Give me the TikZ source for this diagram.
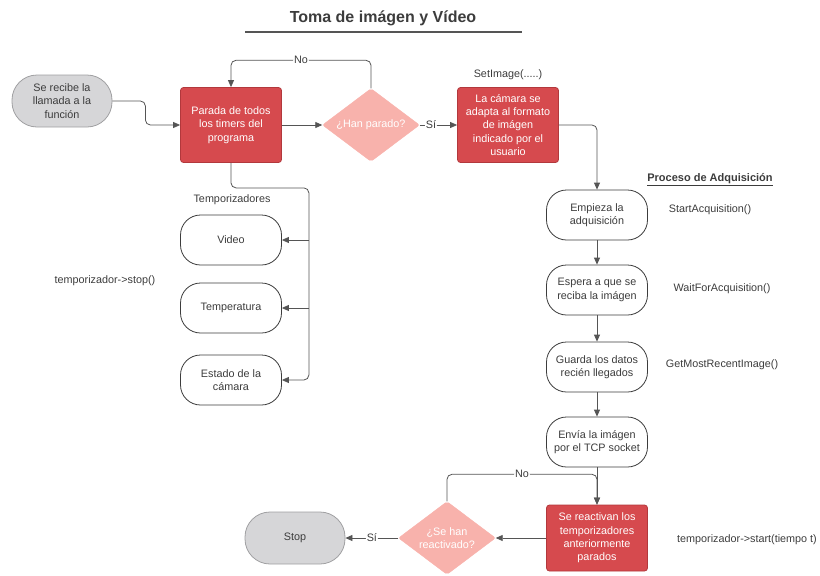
\documentclass[tikz,border=0pt]{standalone}
\usepackage{fontspec}
\setmainfont{Liberation Sans}
\usetikzlibrary{shapes.geometric,arrows.meta,calc}

\definecolor{redbox}{RGB}{214,74,78}
\definecolor{redline}{RGB}{178,56,60}
\definecolor{pinkdia}{RGB}{248,178,172}
\definecolor{graypill}{RGB}{214,214,216}
\definecolor{grayline}{RGB}{160,160,162}
\definecolor{ink}{RGB}{60,60,60}
\definecolor{wire}{RGB}{85,85,85}

\tikzset{
  txt/.style={font=\fontsize{10.8}{13.4}\selectfont, text=ink, align=center},
  pill/.style={txt, draw=grayline, fill=graypill, line width=0.8pt,
    minimum width=100pt, minimum height=52pt, rounded corners=25pt, inner sep=1pt},
  redstep/.style={txt, text=white, draw=redline, fill=redbox, line width=0.8pt,
    minimum width=101pt, minimum height=75pt, rounded corners=3pt, inner sep=1pt},
  whitestep/.style={txt, draw=ink, fill=white, line width=0.8pt,
    minimum width=101pt, minimum height=50pt, rounded corners=20pt, inner sep=1pt},
  decide/.style={txt, text=white, diamond, fill=pinkdia, draw=pinkdia, rounded corners=2pt,
    minimum width=97pt, minimum height=73pt, aspect=1.3, inner sep=0pt},
  conn/.style={draw=wire, line width=0.8pt, rounded corners=5pt,
    -{Triangle[length=7pt,width=6pt]}},
  lbl/.style={txt, fill=white, inner sep=1pt},
  note/.style={txt},
}

\begin{document}
\begin{tikzpicture}[x=1pt,y=-1pt]
\useasboundingbox (0,0) rectangle (820,576);

% title
\node[font=\fontsize{16}{19}\selectfont\bfseries, text=ink] (title) at (383,18) {Toma de imágen y Vídeo};
\draw[wire, line width=1.2pt] (245,32) -- (522,32);

% top row
\node[pill] (start) at (62,101) {Se recibe la\\llamada a la\\función};
\node[redstep] (parada) at (231,125) {Parada de todos\\los timers del\\programa};
\node[decide] (han) at (371,125) {¿Han parado?};
\node[redstep] (cam) at (508,125) {La cámara se\\adapta al formato\\de imágen\\indicado por el\\usuario};
\node[note] (setimg) at (508,75) {SetImage(.....)};

% timers column
\node[note] (temps) at (232,200) {Temporizadores};
\node[whitestep] (vid) at (231,240) {Video};
\node[whitestep] (temp) at (231,308) {Temperatura};
\node[whitestep] (est) at (231,380) {Estado de la\\cámara};
\node[note] (stopcall) at (105,281) {temporizador->stop()};

% acquisition column
\node[txt, font=\fontsize{11}{13.4}\selectfont\bfseries] (proc) at (710,180) {\underline{Proceso de Adquisición}};
\node[whitestep] (emp) at (597,215) {Empieza la\\adquisición};
\node[whitestep] (esp) at (597,290) {Espera a que se\\reciba la imágen};
\node[whitestep] (gua) at (597,367) {Guarda los datos\\recién llegados};
\node[whitestep] (env) at (597,442) {Envía la imágen\\por el TCP socket};
\node[redstep, minimum height=66pt] (react) at (597,538) {Se reactivan los\\temporizadores\\anteriormente\\parados};
\node[note] (sa) at (710,210) {StartAcquisition()};
\node[note] (wa) at (722,289) {WaitForAcquisition()};
\node[note] (gm) at (722,365) {GetMostRecentImage()};
\node[note] (st) at (747,540) {temporizador->start(tiempo t)};

% bottom row
\node[decide] (sehan) at (447,538) {¿Se han\\reactivado?};
\node[pill] (stop) at (295,538) {Stop};

% connectors, top row
\draw[conn] (start.east) -- ++(33,0) |- (parada.west);
\draw[conn] (parada.east) -- (han.west);
\draw[conn] (han.north) -- ++(0,-28) -| node[pos=0.25,lbl]{No} (parada.north);
\draw[conn] (han.east) -- node[pos=0.3,lbl]{Sí} (cam.west);
\draw[conn] (cam.east) -| (emp.north);

% connectors, timers
\draw[conn] (parada.south) -- ++(0,25) -| ([xshift=27pt]est.east) -- (est.east);
\draw[conn] ([xshift=27pt]vid.east) -- (vid.east);
\draw[conn] ([xshift=27pt]temp.east) -- (temp.east);

% connectors, acquisition
\draw[conn] (emp.south) -- (esp.north);
\draw[conn] (esp.south) -- (gua.north);
\draw[conn] (gua.south) -- (env.north);
\draw[conn] (env.south) -- (react.north);
\draw[conn] (sehan.north) -- ++(0,-27) -| node[pos=0.25,lbl]{No} (react.north);
\draw[conn] (react.west) -- (sehan.east);
\draw[conn] (sehan.west) -- node[lbl]{Sí} (stop.east);
\end{tikzpicture}
\end{document}
